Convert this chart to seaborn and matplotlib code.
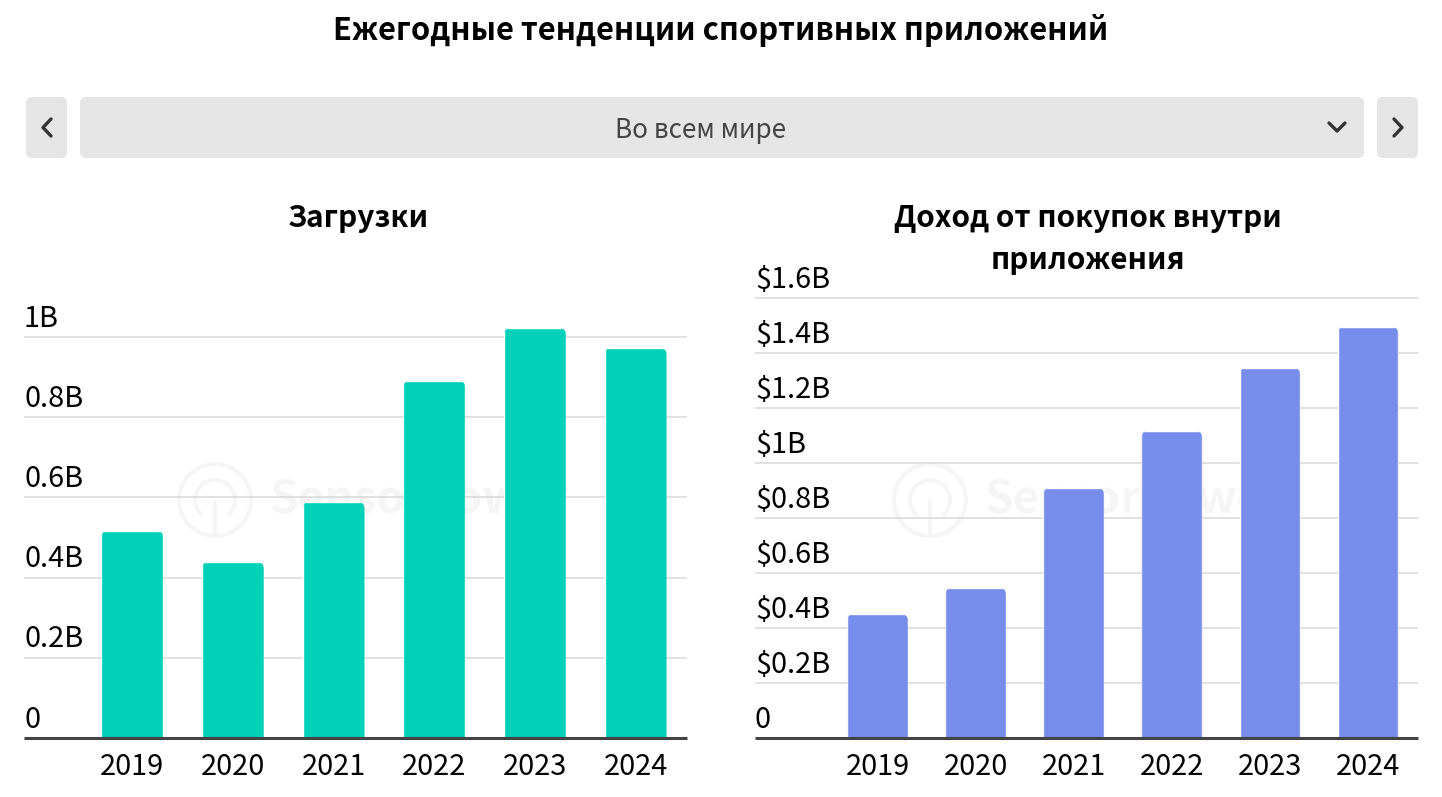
import pandas as pd
import seaborn as sns
from matplotlib import pyplot as plt
from matplotlib.lines import Line2D
from matplotlib.patches import Arc, Circle, FancyBboxPatch
from matplotlib.transforms import IdentityTransform, ScaledTranslation

# Data

years = ['2019', '2020', '2021', '2022', '2023', '2024']
downloads = [0.517, 0.439, 0.589, 0.891, 1.023, 0.973]
revenue = [0.451, 0.546, 0.909, 1.117, 1.346, 1.495]
downloads_ticks = [0, 0.2, 0.4, 0.6, 0.8, 1.0]
downloads_labels = ['0', '0.2B', '0.4B', '0.6B', '0.8B', '1B']
revenue_ticks = [0, 0.2, 0.4, 0.6, 0.8, 1.0, 1.2, 1.4, 1.6]
revenue_labels = ['0', '$0.2B', '$0.4B', '$0.6B', '$0.8B', '$1B', '$1.2B', '$1.4B', '$1.6B']

W, H = 1442, 797
FONT = ['Noto Sans CJK JP', 'DejaVu Sans']
DARK = '#333333'

sns.set_theme(style='white')
plt.rcParams['font.family'] = FONT

fig = plt.figure(figsize=(W / 100, H / 100), dpi=100, facecolor='white')


def fx(x):
    return x / W


def fy(y):
    return 1 - y / H


# Header with the selector

def grey_box(x0, x1, y0=97, y1=158):
    r = 6
    fig.add_artist(FancyBboxPatch((x0 + r, H - y1 + r), x1 - x0 - 2 * r, y1 - y0 - 2 * r,
                                  boxstyle='round,pad=%d,rounding_size=%d' % (r, r),
                                  fc='#e5e5e5', ec='none', transform=IdentityTransform()))


def chevron(xs, ys):
    fig.add_artist(Line2D(xs, [H - y for y in ys], color=DARK, lw=2.4,
                          transform=IdentityTransform()))


grey_box(26, 67)
grey_box(80, 1364)
grey_box(1377, 1418)
chevron([51, 43, 51], [119, 127.5, 136])
chevron([1394, 1402, 1394], [119, 127.5, 136])
chevron([1329, 1337, 1345], [123, 131, 123])

fig.text(fx(721), fy(30.5), 'Ежегодные тенденции спортивных приложений', ha='center', va='center',
         fontsize=22.25, fontweight='bold', color='black')
fig.text(fx(701), fy(130), 'Во всем мире', ha='center', va='center', fontsize=18.8, color='#444444')
fig.text(fx(358), fy(218), 'Загрузки', ha='center', va='center', fontsize=21.5, fontweight='bold', color='black')
fig.text(fx(1088), fy(218), 'Доход от покупок внутри', ha='center', va='center', fontsize=21.4,
         fontweight='bold', color='black')
fig.text(fx(1088), fy(260), 'приложения', ha='center', va='center', fontsize=21.4, fontweight='bold', color='black')


# Faint watermark behind the bars

def watermark(ax, cx, cy):
    col = '#f5f5f5'
    t = IdentityTransform()
    y = H - cy
    ax.add_patch(Circle((cx, y), 36, fc='none', ec=col, lw=2.8, transform=t, zorder=0.5, clip_on=False))
    ax.add_patch(Arc((cx, y), 40, 40, theta1=-50, theta2=230, ec=col, lw=2.8, transform=t, zorder=0.5))
    ax.add_line(Line2D([cx, cx], [y - 36, y - 2], color=col, lw=2.8, transform=t, zorder=0.5))
    ax.text(cx + 54, y, 'SensorTower', transform=t, ha='left', va='center', fontsize=33,
            fontweight='bold', color=col, zorder=0.5)


def bar_panel(left, right, values, ticks, labels, color, x_low, y_top, bar_width, wm_x):
    top, bottom = 290, 738
    ax = fig.add_axes([fx(left), fy(bottom), fx(right - left), (bottom - top) / H])
    df = pd.DataFrame({'year': years, 'value': values})
    sns.barplot(data=df, x='year', y='value', color=color, saturation=1, width=bar_width, ax=ax)
    ax.set_xlim(x_low, 5.51)
    ax.set_ylim(0, y_top)
    ax.set_xlabel('')
    ax.set_ylabel('')
    ax.set_yticks(ticks)
    ax.set_yticklabels(labels)
    ax.set_axisbelow(True)
    ax.grid(axis='y', color='#d8d8d8', lw=1.1)
    ax.grid(axis='x', visible=False)
    ax.set_facecolor('none')
    sns.despine(ax=ax, left=True, top=True, right=True)
    ax.spines['bottom'].set_color('#444444')
    ax.spines['bottom'].set_linewidth(2.2)
    ax.spines['bottom'].set_capstyle('butt')
    ax.tick_params(axis='x', length=0, labelsize=20.8, pad=10, labelcolor='black')
    ax.tick_params(axis='y', length=0, labelsize=20.8, pad=0, labelcolor='black')
    # labels stand left-aligned on top of their grid lines
    shift = ScaledTranslation(0, 7.5 / 72, fig.dpi_scale_trans)
    for lab in ax.get_yticklabels():
        lab.set_ha('left')
        lab.set_va('baseline')
        lab.set_transform(lab.get_transform() + shift)
    # round only the upper corners of the bars
    fig.canvas.draw()
    for bar in ax.patches:
        box = bar.get_window_extent()
        clip = FancyBboxPatch((box.x0 + 7, box.y0 - 20), box.width - 14, box.height + 13,
                              boxstyle='round,pad=7,rounding_size=7', transform=IdentityTransform())
        bar.set_clip_path(clip)
    watermark(ax, wm_x, 500)
    return ax


bar_panel(24, 687, downloads, downloads_ticks, downloads_labels, '#00d1b8', -1.075, 448 / 401, 0.615, 215)
bar_panel(755, 1418, revenue, revenue_ticks, revenue_labels, '#778deb', -1.25, 448 / 275, 0.62, 930)

fig.savefig('out.png', dpi=100, facecolor='white')
